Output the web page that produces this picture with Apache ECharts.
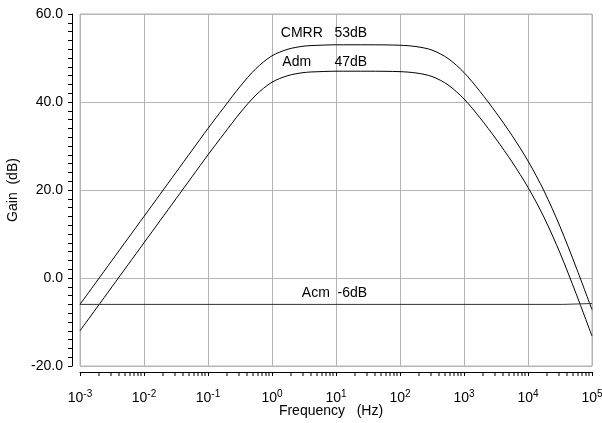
<!DOCTYPE html>
<html>
<head>
<meta charset="utf-8">
<script src="https://cdn.jsdelivr.net/npm/echarts@6/dist/echarts.min.js"></script>
<style>
  html, body { margin: 0; padding: 0; background: #fff; }
  #chart { width: 602px; height: 423px; }
</style>
</head>
<body>
<div id="chart"></div>
<script>
// frequency points (Hz), quarter-decade steps
const freqs = [0.001, 0.001778, 0.003162, 0.005623, 0.01, 0.01778, 0.03162, 0.05623,
  0.1, 0.1778, 0.3162, 0.5623, 1, 1.778, 3.162, 5.623, 10, 31.62, 100, 177.8, 316.2,
  562.3, 1000, 1778, 3162, 5623, 10000, 17780, 31620, 56230, 100000];

// gain in dB
const cmrr = [-6.0, -1.0, 4.0, 9.0, 14.0, 19.0, 24.0, 29.0, 34.0, 38.8, 43.5, 47.6,
  50.5, 52.0, 52.7, 52.9, 53.0, 53.0, 52.9, 52.6, 51.8, 49.9, 46.7, 42.4, 37.6, 32.4,
  26.6, 19.8, 11.7, 2.5, -7.2];
const adm = [-12.0, -7.0, -2.0, 3.0, 8.0, 13.0, 18.0, 23.0, 28.0, 32.8, 37.5, 41.6,
  44.5, 46.0, 46.7, 46.9, 47.0, 47.0, 46.9, 46.6, 45.8, 43.9, 40.7, 36.4, 31.6, 26.4,
  20.6, 13.8, 5.7, -3.5, -13.2];
const acmFreqs = [0.001, 35000, 36000, 100000];
const acm = [-6.0, -6.0, -5.8, -5.8];

// decade minor tick positions (2..9 x 10^k)
const decades = [-3, -2, -1, 0, 1, 2, 3, 4];
const minorTickFreqs = [];
decades.forEach(k => {
  for (let m = 2; m <= 9; m++) minorTickFreqs.push(m * Math.pow(10, k));
});

const LABEL_FONT = 'Liberation Sans, Arial, sans-serif';
const GRID_COLOR = '#b4b4b4';

const zip = (xs, ys) => xs.map((x, i) => [x, ys[i]]);

function curveNote(text, coord) {
  return {
    symbolSize: 1, itemStyle: { color: 'transparent' },
    label: { show: true, position: 'left', distance: 0, fontSize: 14, color: '#000', formatter: '{b}' },
    data: [{ name: text, coord: coord }]
  };
}

const chart = echarts.init(document.getElementById('chart'));
chart.setOption({
  animation: false,
  textStyle: { fontFamily: LABEL_FONT, color: '#000' },
  grid: {
    left: 80, top: 14, width: 512, height: 352,
    containLabel: false, outerBoundsMode: 'none',
    show: true, borderColor: GRID_COLOR, borderWidth: 1
  },
  xAxis: {
    type: 'log', logBase: 10, min: 0.001, max: 100000, interval: 1,
    offset: 6,
    axisLine: { onZero: false, lineStyle: { color: '#000', width: 1 } },
    axisTick: { show: true, length: 4, inside: false, lineStyle: { color: '#000' } },
    splitLine: { show: true, lineStyle: { color: GRID_COLOR, width: 1 } },
    axisLabel: {
      margin: 17,
      fontSize: 14,
      color: '#000',
      formatter: v => '10{s|' + Math.round(Math.log10(v)) + '}',
      rich: {
        s: { fontSize: 10, verticalAlign: 'top', padding: [0, 0, 8, 0], fontFamily: LABEL_FONT }
      }
    },
    name: 'Frequency   (Hz)',
    nameLocation: 'middle',
    nameGap: 32,
    nameMoveOverlap: false,
    nameTextStyle: { fontSize: 14, color: '#000', padding: [0, 10, 0, 0] }
  },
  yAxis: {
    type: 'value', min: -20, max: 60, interval: 20,
    offset: 8,
    axisLine: { show: true, onZero: false, lineStyle: { color: '#000', width: 1 } },
    axisTick: { show: true, length: 4, lineStyle: { color: '#000' } },
    minorTick: { show: true, splitNumber: 10, length: 4, lineStyle: { color: '#000' } },
    splitLine: { show: true, lineStyle: { color: GRID_COLOR, width: 1 } },
    axisLabel: {
      margin: 9, fontSize: 14, color: '#000',
      formatter: v => v.toFixed(1)
    },
    name: 'Gain  (dB)',
    nameLocation: 'middle',
    nameGap: 52,
    nameTextStyle: { fontSize: 14, color: '#000' }
  },
  series: [
    {
      name: 'CMRR', type: 'line', data: zip(freqs, cmrr),
      smooth: 0.3, showSymbol: false,
      lineStyle: { color: '#000', width: 1 },
      markPoint: curveNote('CMRR   53dB', [31, 55.6])
    },
    {
      name: 'Adm', type: 'line', data: zip(freqs, adm),
      smooth: 0.3, showSymbol: false,
      lineStyle: { color: '#000', width: 1 },
      markPoint: curveNote('Adm      47dB', [31, 49.0])
    },
    {
      name: 'Acm', type: 'line', data: zip(acmFreqs, acm),
      showSymbol: false,
      lineStyle: { color: '#333', width: 1 },
      markPoint: curveNote('Acm  -6dB', [31, -3.5])
    },
    {
      // logarithmic minor ticks under the frequency axis
      type: 'custom', coordinateSystem: 'cartesian2d', silent: true, clip: false, z: 10,
      encode: { x: 0, y: 1 },
      data: minorTickFreqs.map(f => [f, -20]),
      renderItem: (params, api) => {
        const p = api.coord([api.value(0), api.value(1)]);
        return {
          type: 'rect',
          shape: { x: Math.round(p[0]) - 0.5, y: p[1] + 6, width: 1, height: 4 },
          style: { fill: '#000' }
        };
      }
    }
  ]
});
</script>
</body>
</html>
